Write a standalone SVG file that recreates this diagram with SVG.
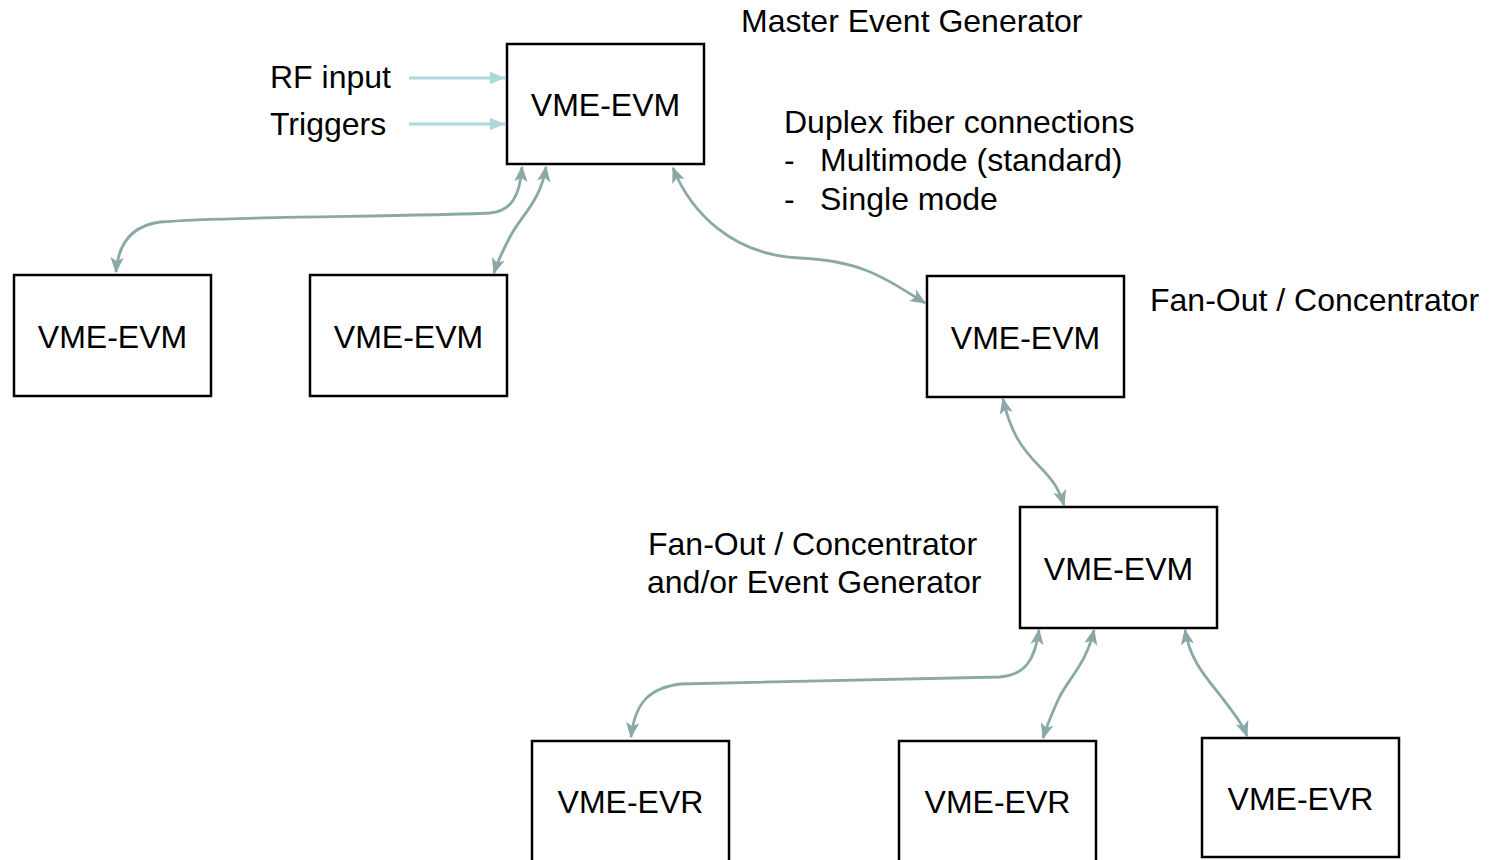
<svg xmlns="http://www.w3.org/2000/svg" width="1501" height="860" viewBox="0 0 1501 860">
<style>
.box{fill:#fff;stroke:#000;stroke-width:2.5}
.t{font-family:"Liberation Sans",Arial,sans-serif;font-size:32px;fill:#000}
.bt{font-family:"Liberation Sans",Arial,sans-serif;font-size:32px;fill:#000;text-anchor:middle}
.c{fill:none;stroke:#8aa8a8;stroke-width:2.8;marker-start:url(#ah);marker-end:url(#ah)}
.in{fill:none;stroke:#add8dc;stroke-width:2.8;marker-end:url(#ih)}
</style>
<defs>
<marker id="ah" viewBox="0 0 12 10" refX="11" refY="5" markerWidth="16" markerHeight="14" markerUnits="userSpaceOnUse" orient="auto-start-reverse">
<path d="M0,0 L12,5 L0,10 L3,5 Z" fill="#8aa8a8"/>
</marker>
<marker id="ih" viewBox="0 0 12 10" refX="12" refY="5" markerWidth="15" markerHeight="13" markerUnits="userSpaceOnUse" orient="auto">
<path d="M0,0 L12,5 L0,10 Z" fill="#add8dc"/>
</marker>
</defs>
<rect width="1501" height="860" fill="#fff"/>
<g id="labels">
<text class="t" x="741" y="32">Master Event Generator</text>
<text class="t" x="270" y="88">RF input</text>
<text class="t" x="270" y="135">Triggers</text>
<text class="t" x="784" y="133">Duplex fiber connections</text>
<text class="t" x="784" y="171">-</text>
<text class="t" x="820" y="171">Multimode (standard)</text>
<text class="t" x="784" y="210">-</text>
<text class="t" x="820" y="210">Single mode</text>
<text class="t" x="1150" y="311">Fan-Out / Concentrator</text>
<text class="t" x="648" y="555">Fan-Out / Concentrator</text>
<text class="t" x="647" y="593">and/or Event Generator</text>
</g>
<g id="connectors">
<path class="in" d="M409,78 L505,78"/>
<path class="in" d="M409,124 L505,124"/>
<path class="c" d="M522,167 C520,195 512,211 490,213 C400,217 230,216 160,222 C130,226 118,245 116,272"/>
<path class="c" d="M546,167 C541,200 522,215 511,235 C502,252 497,263 494,273"/>
<path class="c" d="M673,168 C690,210 730,255 800,258 C860,261 880,275 925,303"/>
<path class="c" d="M1003,399 C1010,430 1020,447 1040,467 C1055,482 1060,492 1064,505"/>
<path class="c" d="M1039,630 C1035,660 1025,675 1000,677 L680,684 C650,688 635,702 631,737"/>
<path class="c" d="M1094,630 C1086,665 1067,680 1058,700 C1050,718 1046,728 1043,738"/>
<path class="c" d="M1185,630 C1190,660 1205,676 1220,695 C1235,715 1243,725 1247,736"/>
</g>
<g id="master"><rect class="box" x="507" y="44" width="197" height="120"/><text class="bt" x="605.5" y="116">VME-EVM</text></g>
<g id="evm1"><rect class="box" x="14" y="275" width="197" height="121"/><text class="bt" x="112.5" y="348">VME-EVM</text></g>
<g id="evm2"><rect class="box" x="310" y="275" width="197" height="121"/><text class="bt" x="408.5" y="348">VME-EVM</text></g>
<g id="fanout1"><rect class="box" x="927" y="276" width="197" height="121"/><text class="bt" x="1025.5" y="349">VME-EVM</text></g>
<g id="fanout2"><rect class="box" x="1020" y="507" width="197" height="121"/><text class="bt" x="1118.5" y="580">VME-EVM</text></g>
<g id="evr1"><rect class="box" x="532" y="741" width="197" height="130"/><text class="bt" x="630.5" y="813">VME-EVR</text></g>
<g id="evr2"><rect class="box" x="899" y="741" width="197" height="130"/><text class="bt" x="997.5" y="813">VME-EVR</text></g>
<g id="evr3"><rect class="box" x="1202" y="738" width="197" height="119"/><text class="bt" x="1300.5" y="810">VME-EVR</text></g>
</svg>
